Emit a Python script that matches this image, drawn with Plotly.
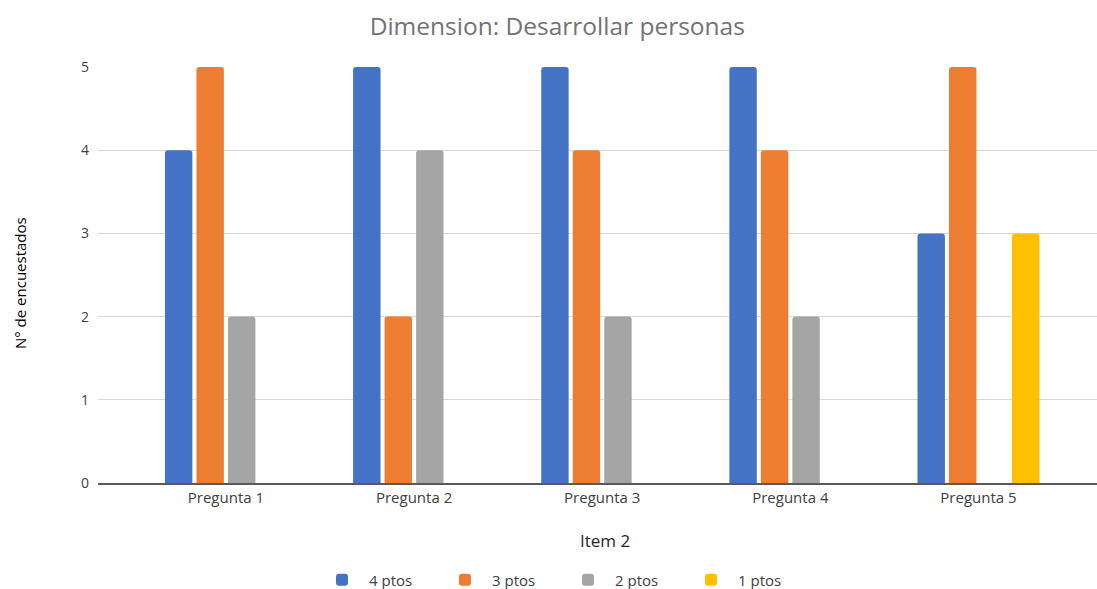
import plotly.graph_objects as go

# Survey results per question
preguntas = ["Pregunta 1", "Pregunta 2", "Pregunta 3", "Pregunta 4", "Pregunta 5"]
ptos_4 = [4, 5, 5, 5, 3]
ptos_3 = [5, 2, 4, 4, 5]
ptos_2 = [2, 4, 2, 2, 0]
ptos_1 = [0, 0, 0, 0, 3]

series = [
    ("4 ptos", ptos_4, "#4472C4"),
    ("3 ptos", ptos_3, "#ED7D31"),
    ("2 ptos", ptos_2, "#A5A5A5"),
    ("1 ptos", ptos_1, "#FFC000"),
]

FONT = "Open Sans, DejaVu Sans, sans-serif"

fig = go.Figure()
for name, vals, color in series:
    fig.add_trace(go.Bar(
        x=preguntas, y=vals, name=name,
        marker=dict(color=color, line=dict(width=0)),
    ))

fig.update_layout(
    width=1097, height=589,
    paper_bgcolor="white", plot_bgcolor="white",
    margin=dict(l=98, r=0, t=67, b=106, autoexpand=False),
    barmode="group", bargap=0.33, bargroupgap=0.13,
    barcornerradius=3,
    font=dict(family=FONT, color="#595959"),
    title=dict(text="Dimension: Desarrollar personas", x=0.508, xanchor="center",
               y=1 - 26 / 589, yanchor="middle",
               font=dict(size=24.5, color="#737373", family=FONT)),
    xaxis=dict(
        type="category", range=[-0.68, 4.63],
        showgrid=False, showline=True, linecolor="#595959", linewidth=1.5,
        ticks="", tickfont=dict(size=15, color="#404040"),
    ),
    yaxis=dict(
        range=[0, 5], dtick=1, showgrid=True, gridcolor="#D9D9D9", gridwidth=1,
        zeroline=False, ticks="", ticklen=0, ticklabelstandoff=8,
        tickfont=dict(size=14, color="#404040"),
        showline=False,
    ),
    showlegend=True,
    legend=dict(orientation="h", xref="container", x=315 / 1097, xanchor="left",
                yref="container", y=1 - 580 / 589, yanchor="middle",
                font=dict(size=15, color="#404040"), itemwidth=44,
                entrywidth=64, entrywidthmode="pixels",
                traceorder="normal"),
    annotations=[
        dict(text="N° de encuestados", x=0, xref="paper", xanchor="center",
             xshift=20 - 98, y=(483 - 283) / 416, yref="paper", showarrow=False,
             textangle=-90, font=dict(size=15, color="#000000", family=FONT)),
        dict(text="Item 2", x=0.508, xref="paper", y=-(540 - 483) / 416, yref="paper",
             showarrow=False, yanchor="middle",
             font=dict(size=17, color="#262626", family=FONT)),
    ],
)

fig.write_html("out.html")
